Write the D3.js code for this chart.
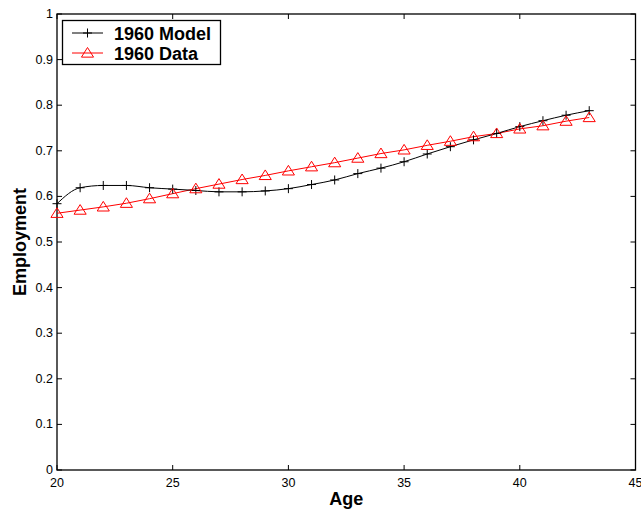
<!DOCTYPE html>
<html><head><meta charset="utf-8">
<script src="https://cdn.jsdelivr.net/npm/d3@7"></script>
<style>body{margin:0;background:#fff}svg{display:block}</style>
</head><body>
<script>
const ages = [20,21,22,23,24,25,26,27,28,29,30,31,32,33,34,35,36,37,38,39,40,41,42,43];
const model1960 = [0.584,0.619,0.624,0.624,0.619,0.616,0.613,0.610,0.610,0.612,0.617,0.626,0.636,0.650,0.662,0.676,0.693,0.709,0.724,0.738,0.753,0.766,0.778,0.788];
const data1960 = [0.563,0.570,0.577,0.585,0.595,0.606,0.617,0.627,0.637,0.646,0.656,0.665,0.674,0.684,0.694,0.702,0.712,0.721,0.731,0.738,0.748,0.755,0.765,0.773];
const xTicks = [20,25,30,35,40,45];
const yTicks = [0,0.1,0.2,0.3,0.4,0.5,0.6,0.7,0.8,0.9,1];
const seriesNames = ["1960 Model","1960 Data"];

const W=641,H=511;
const svg=d3.select("body").append("svg").attr("width",W).attr("height",H);
const L=57,R=635.5,T=14,B=470;
const x=d3.scaleLinear().domain([20,45]).range([L,R]);
const y=d3.scaleLinear().domain([0,1]).range([B,T]);
const font="Liberation Sans, Arial, Helvetica, sans-serif";

// frame
svg.append("rect").attr("x",L).attr("y",T).attr("width",R-L).attr("height",B-T)
  .attr("fill","none").attr("stroke","#000").attr("stroke-width",1.3);

// ticks inward on all sides
const tl=5;
const g=svg.append("g").attr("stroke","#000").attr("stroke-width",1);
xTicks.forEach(t=>{
  g.append("line").attr("x1",x(t)).attr("x2",x(t)).attr("y1",B).attr("y2",B-tl);
  g.append("line").attr("x1",x(t)).attr("x2",x(t)).attr("y1",T).attr("y2",T+tl);
});
yTicks.forEach(t=>{
  g.append("line").attr("x1",L).attr("x2",L+tl).attr("y1",y(t)).attr("y2",y(t));
  g.append("line").attr("x1",R).attr("x2",R-tl).attr("y1",y(t)).attr("y2",y(t));
});
svg.selectAll(".xl").data(xTicks).enter().append("text")
  .attr("x",d=>x(d)).attr("y",B+17).attr("text-anchor","middle")
  .attr("font-family",font).attr("font-size",12.5).text(d=>d);
svg.selectAll(".yl").data(yTicks).enter().append("text")
  .attr("x",L-4).attr("y",d=>y(d)+4).attr("text-anchor","end")
  .attr("font-family",font).attr("font-size",12.5).text(d=>d);

svg.append("text").attr("x",(L+R)/2).attr("y",505).attr("text-anchor","middle")
  .attr("font-family",font).attr("font-weight","bold").attr("font-size",18).text("Age");
svg.append("text").attr("transform",`translate(26,${(T+B)/2}) rotate(-90)`).attr("text-anchor","middle")
  .attr("font-family",font).attr("font-weight","bold").attr("font-size",18).text("Employment");

// lines
const lineM=d3.line().x((d,i)=>x(ages[i])).y(d=>y(d)).curve(d3.curveMonotoneX);
const lineD=d3.line().x((d,i)=>x(ages[i])).y(d=>y(d));
svg.append("path").attr("d",lineD(data1960)).attr("fill","none").attr("stroke","#ff0000").attr("stroke-width",1);
svg.append("path").attr("d",lineM(model1960)).attr("fill","none").attr("stroke","#000").attr("stroke-width",1);

const plus=s=>`M${-s},0H${s}M0,${-s}V${s}`;
const tri=s=>`M0,${-s}L${s*1.1},${s*0.75}L${-s*1.1},${s*0.75}Z`;
svg.selectAll(".pm").data(model1960).enter().append("path")
  .attr("transform",(d,i)=>`translate(${x(ages[i])},${y(d)})`).attr("d",plus(4.5))
  .attr("stroke","#000").attr("stroke-width",1).attr("fill","none");
svg.selectAll(".pd").data(data1960).enter().append("path")
  .attr("transform",(d,i)=>`translate(${x(ages[i])},${y(d)})`).attr("d",tri(5.5))
  .attr("stroke","#ff0000").attr("stroke-width",1).attr("fill","none");

// legend
const lg=svg.append("g");
lg.append("rect").attr("x",62.5).attr("y",20.5).attr("width",158).attr("height",44)
  .attr("fill","#fff").attr("stroke","#000").attr("stroke-width",1.3);
const rows=[{y:33,name:seriesNames[0],c:"#000",m:plus(4.5)},{y:53,name:seriesNames[1],c:"#ff0000",m:tri(5.5)}];
rows.forEach(r=>{
  lg.append("line").attr("x1",72).attr("x2",103).attr("y1",r.y).attr("y2",r.y).attr("stroke",r.c).attr("stroke-width",1);
  lg.append("path").attr("transform",`translate(87.5,${r.y})`).attr("d",r.m).attr("stroke",r.c).attr("fill","none");
  lg.append("text").attr("x",114).attr("y",r.y+6.5).attr("font-family",font).attr("font-weight","bold")
    .attr("font-size",18).text(r.name);
});
</script>
</body></html>
